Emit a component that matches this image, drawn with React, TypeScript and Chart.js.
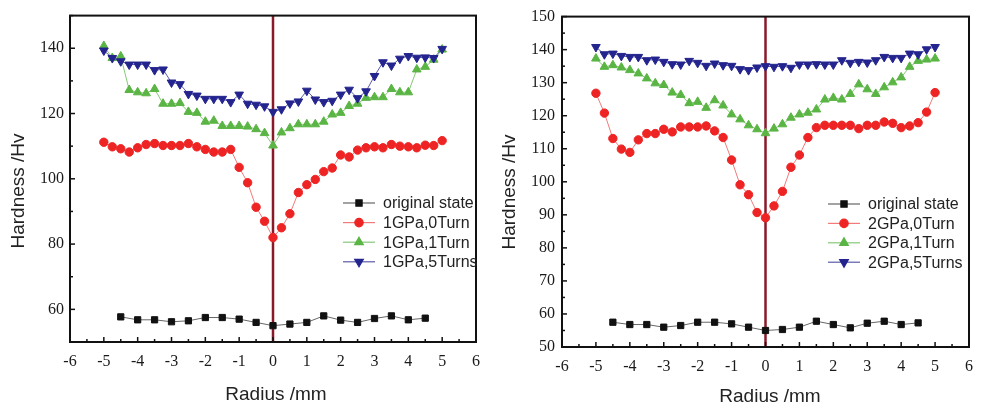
import React, { useEffect, useRef } from "react";
import { Chart, registerables } from "chart.js";
import { drawPoint } from "chart.js/helpers";

Chart.register(...registerables);

// ---------- data ----------
const RADIUS_FINE = [
  -5, -4.75, -4.5, -4.25, -4, -3.75, -3.5, -3.25, -3, -2.75, -2.5, -2.25, -2, -1.75, -1.5, -1.25,
  -1, -0.75, -0.5, -0.25, 0, 0.25, 0.5, 0.75, 1, 1.25, 1.5, 1.75, 2, 2.25, 2.5, 2.75, 3, 3.25,
  3.5, 3.75, 4, 4.25, 4.5, 4.75, 5,
];
const RADIUS_COARSE = [-4.5, -4, -3.5, -3, -2.5, -2, -1.5, -1, -0.5, 0, 0.5, 1, 1.5, 2, 2.5, 3, 3.5, 4, 4.5];

const LEFT_LABELS = ["original state", "1GPa,0Turn", "1GPa,1Turn", "1GPa,5Turns"];
const L_ORIGINAL = [57.7, 56.8, 56.8, 56.2, 56.5, 57.5, 57.5, 57, 56, 55, 55.5, 56, 58, 56.7, 56, 57.2, 58, 56.8, 57.3];
const L_0TURN = [
  111.2, 109.8, 109.2, 108.2, 109.5, 110.5, 110.8, 110.2, 110.2, 110.2, 110.8, 109.8, 109, 108.2, 108.2, 109,
  103.5, 98.8, 91.3, 87, 82, 85, 89.3, 95.8, 98.2, 99.8, 102.2, 103.3, 107.3, 106.7, 108.8, 109.5, 109.8,
  109.5, 110.5, 110, 109.8, 109.5, 110.3, 110.2, 111.7,
];
const L_1TURN = [
  140.7, 137, 137.5, 127.2, 126.5, 126.2, 127.5, 123, 123, 123.2, 120.5, 120.2, 117.5, 117.8, 116.2, 116.2,
  116.2, 116, 115.2, 114, 110.2, 114.2, 115.5, 116.7, 116.7, 116.7, 117.5, 119.7, 120.2, 122.3, 123, 124.8,
  125, 125, 127.5, 126.5, 126.5, 133.5, 134.3, 136.5, 139.6,
];
const L_5TURNS = [
  139.3, 137, 136, 135, 135, 135, 133.3, 133.5, 129.5, 129, 126, 125.5, 124.5, 124.5, 124.5, 123.5, 125.8,
  123, 122.7, 122.2, 120.5, 121.3, 123.1, 123.7, 127, 124.3, 123.5, 123.9, 125.8, 127.3, 124.7, 126.8, 131.5,
  135.7, 134.7, 136.8, 137.6, 137.1, 137.2, 137, 139.8,
];

const RIGHT_LABELS = ["original state", "2GPa,0Turn", "2GPa,1Turn", "2GPa,5Turns"];
const R_ORIGINAL = [57.5, 56.8, 56.8, 56, 56.5, 57.5, 57.5, 57, 56, 55, 55.3, 56, 57.8, 56.8, 55.8, 57.2, 57.8, 56.8, 57.3];
const R_0TURN = [
  126.8, 120.8, 113.1, 109.9, 108.9, 112.7, 114.6, 114.6, 115.9, 115.1, 116.6, 116.6, 116.6, 116.9, 115.4,
  113.4, 106.6, 99.1, 96.1, 90.7, 89.1, 92.7, 97.1, 104.4, 108.1, 113.4, 116.4, 117.1, 117.1, 117.1, 117.1,
  116.1, 117.1, 117.1, 118.1, 117.7, 116.4, 116.9, 117.9, 121.1, 127,
];
const R_1TURN = [
  137.3, 134.8, 135.3, 134.6, 133.8, 132.8, 131.3, 129.8, 129.3, 127, 126.3, 123.8, 124.2, 122.4, 124.7,
  123.1, 120.4, 118.9, 117.1, 115.9, 114.7, 116.1, 117.4, 119.4, 120.4, 120.9, 121.9, 124.9, 125.4, 124.9,
  126.6, 129.5, 128, 126.6, 128.6, 130.1, 131.6, 134.8, 136.6, 137, 137.3,
];
const R_5TURNS = [
  140.8, 138.6, 138.8, 138.1, 137.8, 137.8, 136.8, 137, 136.3, 135.6, 135.5, 136.6, 136, 135.1, 135.8, 135.3,
  135.1, 134.1, 133.8, 134.6, 135, 134.8, 135, 134.5, 135.5, 135.5, 135.6, 135.5, 135.5, 136.8, 136, 136.3,
  136.1, 136.8, 137.8, 137.5, 137.5, 138.8, 138.6, 140.1, 140.8,
];

const X_MIN = -6;
const X_MAX = 6;
const Y_MIN = 50;
const Y_MAX = 150;
const X_TICK_LABELS = [-6, -5, -4, -3, -2, -1, 0, 1, 2, 3, 4, 5, 6];
const LEFT_Y_TICK_LABELS = [60, 80, 100, 120, 140];
const RIGHT_Y_TICK_LABELS = [50, 60, 70, 80, 90, 100, 110, 120, 130, 140, 150];
const DIVIDER_RADIUS = 0;

const X_TITLE = "Radius /mm";
const Y_TITLE = "Hardness /Hv";

// ---------- styling ----------
const SERIES_STYLE = [
  { point: "#111111", line: "#666666", pointStyle: "rect", radius: 4.4, rotation: 0 },
  { point: "#ee2424", line: "#f27a7a", pointStyle: "circle", radius: 4.2, rotation: 0 },
  { point: "#5ab544", line: "#86c878", pointStyle: "triangle", radius: 5, rotation: 0 },
  { point: "#24248f", line: "#5a5aa8", pointStyle: "triangle", radius: 5, rotation: 180 },
];

const SANS = "'Liberation Sans', Arial, Helvetica, sans-serif";
const SERIF = "'Liberation Serif', 'Times New Roman', Times, serif";

function pairs(xs: number[], ys: number[]) {
  return ys.map((y, i) => ({ x: xs[i], y }));
}

function makeDecor(cfg: any) {
  return {
    id: "decor",
    afterDraw(chart: any) {
      const { ctx, chartArea: a, scales } = chart;
      const xs = scales.x;
      const ys = scales.y;
      ctx.save();
      ctx.strokeStyle = "#111";
      ctx.lineWidth = 1.5;
      const steps = (min: number, max: number, step: number) => {
        const out: number[] = [];
        const n = Math.round((max - min) / step);
        for (let i = 0; i <= n; i++) out.push(min + i * step);
        return out;
      };
      const isMult = (v: number, s: number) => Math.abs(v / s - Math.round(v / s)) < 1e-6;
      for (const v of steps(X_MIN, X_MAX, cfg.xMinor)) {
        const len = isMult(v, cfg.xMajor) ? 5 : 3;
        const px = xs.getPixelForValue(v);
        ctx.beginPath();
        ctx.moveTo(px, a.bottom);
        ctx.lineTo(px, a.bottom - len);
        ctx.stroke();
      }
      for (const v of steps(Y_MIN, Y_MAX, cfg.yMinor)) {
        const len = isMult(v, cfg.yMajor) ? 5 : 3;
        const py = ys.getPixelForValue(v);
        ctx.beginPath();
        ctx.moveTo(a.left, py);
        ctx.lineTo(a.left + len, py);
        ctx.stroke();
      }
      ctx.lineWidth = 2;
      ctx.strokeRect(a.left, a.top, a.right - a.left, a.bottom - a.top);

      ctx.fillStyle = "#222";
      ctx.font = `19px ${SANS}`;
      ctx.textAlign = "center";
      ctx.textBaseline = "middle";
      ctx.fillText(X_TITLE, cfg.xTitle.x, cfg.xTitle.y);
      ctx.save();
      ctx.translate(cfg.yTitle.x, cfg.yTitle.y);
      ctx.rotate(-Math.PI / 2);
      ctx.fillText(Y_TITLE, 0, 0);
      ctx.restore();

      ctx.font = `16px ${SANS}`;
      ctx.textAlign = "left";
      let row = 0;
      chart.data.datasets.forEach((ds: any) => {
        if (ds.inLegend === false) return;
        const y = cfg.legend.y + row * cfg.legend.step;
        const x0 = cfg.legend.x;
        ctx.strokeStyle = ds.borderColor;
        ctx.lineWidth = 1.2;
        ctx.beginPath();
        ctx.moveTo(x0, y);
        ctx.lineTo(x0 + 32, y);
        ctx.stroke();
        ctx.fillStyle = ds.pointBackgroundColor;
        ctx.strokeStyle = ds.pointBorderColor;
        drawPoint(
          ctx,
          { pointStyle: ds.pointStyle, radius: ds.pointRadius, rotation: ds.pointRotation, borderWidth: 1 } as any,
          x0 + 16,
          y
        );
        ctx.fillStyle = "#222";
        ctx.fillText(ds.label, x0 + 40, y + 1);
        row++;
      });
      ctx.restore();
    },
  };
}

function HardnessChart({ cfg }: { cfg: any }) {
  const ref = useRef<HTMLCanvasElement>(null);
  useEffect(() => {
    const series = [cfg.original, cfg.zero, cfg.one, cfg.five];
    const datasets: any[] = series.map((vals: number[], i: number) => {
      const st = SERIES_STYLE[i];
      return {
        label: cfg.labels[i],
        data: pairs(i === 0 ? RADIUS_COARSE : RADIUS_FINE, vals),
        showLine: true,
        borderColor: st.line,
        borderWidth: 1,
        pointBackgroundColor: st.point,
        pointBorderColor: st.point,
        pointBorderWidth: 1,
        pointStyle: st.pointStyle,
        pointRadius: st.radius,
        pointRotation: st.rotation,
        order: i === 3 ? 0 : i === 2 ? 1 : i === 1 ? 2 : 3,
      };
    });
    datasets.push({
      label: "divider",
      inLegend: false,
      data: [
        { x: DIVIDER_RADIUS, y: Y_MIN },
        { x: DIVIDER_RADIUS, y: Y_MAX },
      ],
      showLine: true,
      borderColor: "#8a1a2a",
      borderWidth: 2.5,
      pointRadius: 0,
      order: 10,
    });

    const chart = new Chart(ref.current as HTMLCanvasElement, {
      type: "scatter",
      data: { datasets },
      options: {
        animation: false,
        responsive: false,
        devicePixelRatio: 1,
        events: [],
        layout: { padding: cfg.padding },
        plugins: { legend: { display: false }, tooltip: { enabled: false } },
        scales: {
          x: {
            type: "linear",
            min: X_MIN,
            max: X_MAX,
            grid: { display: false, drawTicks: false },
            border: { display: false },
            afterFit: (s: any) => {
              s.height = cfg.xAxisHeight;
            },
            ticks: {
              stepSize: 1,
              padding: cfg.xTickPad,
              color: "#1a1a1a",
              font: { family: SERIF, size: 16 },
              maxRotation: 0,
              callback: (v: any) => (X_TICK_LABELS.includes(Number(v)) ? String(v) : ""),
            },
          },
          y: {
            type: "linear",
            min: Y_MIN,
            max: Y_MAX,
            grid: { display: false, drawTicks: false },
            border: { display: false },
            afterFit: (s: any) => {
              s.width = cfg.yAxisWidth;
            },
            ticks: {
              stepSize: 10,
              padding: cfg.yTickPad,
              color: "#1a1a1a",
              font: { family: SERIF, size: 16 },
              callback: (v: any) => (cfg.yLabels.includes(Number(v)) ? String(v) : ""),
            },
          },
        },
      },
      plugins: [makeDecor(cfg)],
    } as any);
    return () => chart.destroy();
  }, []);
  return (
    <canvas
      ref={ref}
      width={cfg.width}
      height={410}
      style={{ position: "absolute", left: cfg.left, top: 0, width: cfg.width, height: 410 }}
    />
  );
}

const LEFT_CFG = {
  left: 0,
  width: 490,
  padding: { top: 10, right: 8, left: 0, bottom: 0 },
  yAxisWidth: 70,
  xAxisHeight: 68,
  xTickPad: 10,
  yTickPad: 6,
  xMajor: 1,
  xMinor: 0.5,
  yMajor: 20,
  yMinor: 10,
  yLabels: LEFT_Y_TICK_LABELS,
  labels: LEFT_LABELS,
  original: L_ORIGINAL,
  zero: L_0TURN,
  one: L_1TURN,
  five: L_5TURNS,
  xTitle: { x: 276, y: 395 },
  yTitle: { x: 19, y: 191 },
  legend: { x: 343, y: 203, step: 19.6 },
};

const RIGHT_CFG = {
  left: 490,
  width: 493,
  padding: { top: 13, right: 10, left: 0, bottom: 0 },
  yAxisWidth: 72,
  xAxisHeight: 63,
  xTickPad: 10,
  yTickPad: 7,
  xMajor: 1,
  xMinor: 0.5,
  yMajor: 10,
  yMinor: 5,
  yLabels: RIGHT_Y_TICK_LABELS,
  labels: RIGHT_LABELS,
  original: R_ORIGINAL,
  zero: R_0TURN,
  one: R_1TURN,
  five: R_5TURNS,
  xTitle: { x: 280, y: 397 },
  yTitle: { x: 20, y: 192 },
  legend: { x: 338, y: 204, step: 19.4 },
};

export default function App() {
  return (
    <div style={{ position: "absolute", left: 0, top: 0, width: 983, height: 410, background: "#fff", overflow: "hidden" }}>
      <HardnessChart cfg={LEFT_CFG} />
      <HardnessChart cfg={RIGHT_CFG} />
    </div>
  );
}
